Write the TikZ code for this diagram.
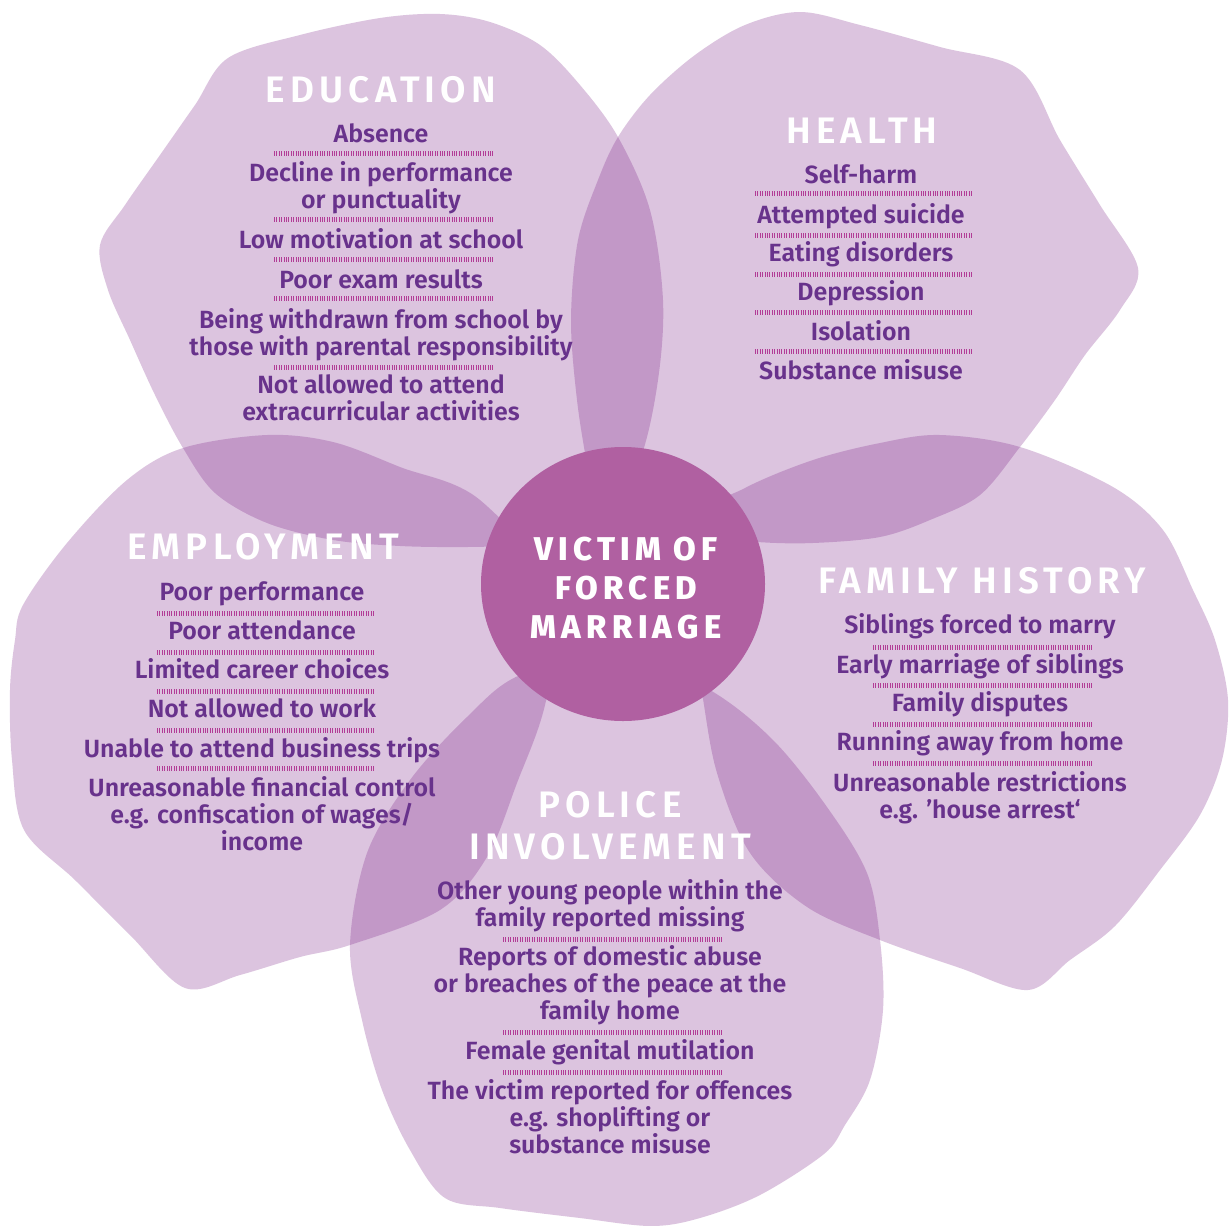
\documentclass[tikz,border=0pt]{standalone}
\usepackage{fontspec}
\setmainfont{Fira Sans}[BoldFont={Fira Sans SemiBold}]
\newfontfamily\headfont[LetterSpace=14]{Fira Sans SemiBold}
\newfontfamily\hubfont[LetterSpace=16]{Fira Sans ExtraBold}

\definecolor{petalc}{RGB}{119,23,131}
\definecolor{hubc}{RGB}{176,96,161}
\definecolor{itemc}{RGB}{104,50,140}
\definecolor{tickc}{RGB}{178,60,150}

\tikzset{
  petal/.style={fill=petalc, fill opacity=0.25},
  head/.style={text=white, font=\headfont\fontsize{37}{42}\selectfont, align=center, anchor=base},
  item/.style={text=itemc, font=\bfseries\fontsize{25}{27}\selectfont, align=center, anchor=base},
  ticks/.style={draw=tickc, line width=5bp, dash pattern=on 0.8bp off 1.6bp},
}

\begin{document}
\begin{tikzpicture}[x=1bp,y=-1bp]
	\fill[white] (0,0) rectangle (1231,1226);
	\useasboundingbox (0,0) rectangle (1231,1226);

	% petals
	\fill[petal] plot[smooth cycle, tension=0.55] coordinates {(600,540) (640,460) (658,380) (663,300) (650,210) (618,137) (580,85) (540,45) (490,22) (440,14) (380,18) (300,35) (228,58) (195,105) (160,155) (125,205) (100,245) (108,290) (130,340) (155,395) (183,448) (215,493) (267,523) (333,540) (400,546) (467,547) (530,545)};
	\fill[petal] plot[smooth cycle, tension=0.55] coordinates {(600,530) (588,470) (577,400) (571,320) (578,240) (598,180) (618,137) (650,95) (695,55) (745,25) (800,12) (860,25) (940,47) (1020,70) (1060,140) (1100,205) (1138,268) (1120,310) (1085,355) (1055,400) (1020,447) (980,495) (930,520) (880,537) (813,543) (757,542) (690,535)};
	\fill[petal] plot[smooth cycle, tension=0.55] coordinates {(690,620) (702,693) (717,773) (750,853) (807,907) (880,940) (960,968) (1028,990) (1070,960) (1115,926) (1160,870) (1200,815) (1222,760) (1228,700) (1215,640) (1193,590) (1163,530) (1113,487) (1020,447) (940,435) (880,443) (813,460) (745,488) (700,520)};
	\fill[petal] plot[smooth cycle, tension=0.55] coordinates {(620,650) (710,690) (773,740) (827,807) (867,873) (880,940) (883,1010) (870,1080) (845,1125) (824,1154) (760,1195) (700,1218) (651,1226) (580,1218) (500,1208) (445,1198) (410,1150) (382,1090) (362,1020) (350,945) (367,853) (410,780) (467,717) (520,675)};
	\fill[petal] plot[smooth cycle, tension=0.55] coordinates {(560,600) (545,705) (517,783) (487,857) (440,910) (350,945) (300,957) (240,975) (185,988) (130,935) (75,880) (24,830) (12,760) (10,690) (15,640) (23,605) (67,543) (127,480) (183,448) (267,435) (333,442) (400,467) (480,500)};

	% centre
	\fill[hubc] (623,584) ellipse [x radius=142, y radius=137];
	\node[text=white, font=\hubfont\fontsize{33}{39}\selectfont, align=center, anchor=base] (hub) at (626,638) {VICTIM OF\\FORCED\\MARRIAGE};

	% headings
	\node[head] (education) at (381,102) {EDUCATION};
	\node[head] (health) at (862,143) {HEALTH};
	\node[head] (employment) at (263,559) {EMPLOYMENT};
	\node[head] (family) at (982,593) {FAMILY HISTORY};
	\node[head] (police) at (610,859) {POLICE\\INVOLVEMENT};

	% lists
	\def\education {1/142/Absence, 2/208/{Decline in performance\\or punctuality}, 3/248/Low motivation at school, 4/288/Poor exam results, 5/355/{Being withdrawn from school by\\those with parental responsibility}, 6/420/{Not allowed to attend\\extracurricular activities}}
	\foreach \n/\y/\t in \education
	{	\node[item] (edu\n) at (381,\y) {\t};
	}
	\def\health {1/183/Self-harm, 2/223/Attempted suicide, 3/261/Eating disorders, 4/300/Depression, 5/340/Isolation, 6/379/Substance misuse}
	\foreach \n/\y/\t in \health
	{	\node[item] (hea\n) at (861,\y) {\t};
	}
	\def\employment {1/600/Poor performance, 2/639/Poor attendance, 3/678/Limited career choices, 4/717/Not allowed to work, 5/757/Unable to attend business trips, 6/850/{Unreasonable financial control\\e.g. confiscation of wages/\\income}}
	\foreach \n/\y/\t in \employment
	{	\node[item] (emp\n) at (262,\y) {\t};
	}
	\def\family {1/633/Siblings forced to marry, 2/673/Early marriage of siblings, 3/711/Family disputes, 4/750/Running away from home, 5/818/{Unreasonable restrictions\\e.g. ’house arrest‘}}
	\foreach \n/\y/\t in \family
	{	\node[item] (fam\n) at (980,\y) {\t};
	}
	\def\police {1/926/{Other young people within the\\family reported missing}, 2/1019/{Reports of domestic abuse\\or breaches of the peace at the\\family home}, 3/1059/Female genital mutilation, 4/1153/{The victim reported for offences\\e.g. shoplifting or\\substance misuse}}
	\foreach \n/\y/\t in \police
	{	\node[item] (pol\n) at (610,\y) {\t};
	}

	% dividers
	\foreach \y in {153,219,259,298,367} \draw[ticks] (274,\y) -- (493,\y);
	\foreach \y in {193,235,274,312,351} \draw[ticks] (755,\y) -- (973,\y);
	\foreach \y in {613,652,691,730,768} \draw[ticks] (157,\y) -- (375,\y);
	\foreach \y in {647,685,724,763} \draw[ticks] (873,\y) -- (1092,\y);
	\foreach \y in {939,1032,1072} \draw[ticks] (503,\y) -- (722,\y);
\end{tikzpicture}
\end{document}
